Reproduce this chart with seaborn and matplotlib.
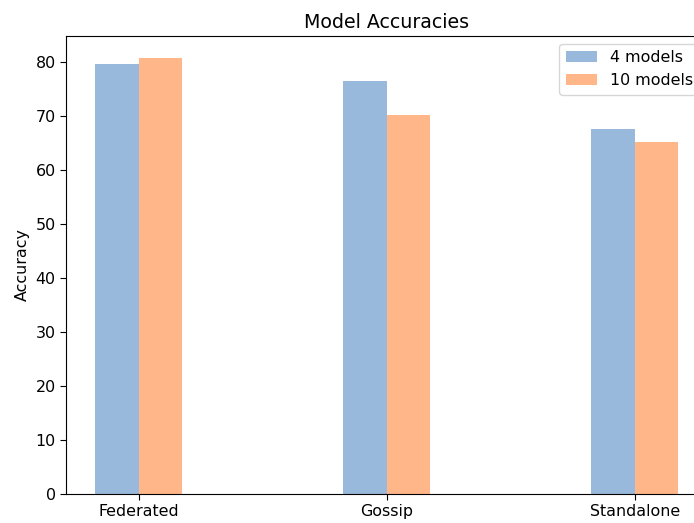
import matplotlib
matplotlib.use("Agg")
import matplotlib.pyplot as plt
import seaborn as sns
import pandas as pd

categories = ["Federated", "Gossip", "Standalone"]
acc_4 = [79.6, 76.4, 67.5]
acc_10 = [80.7, 70.1, 65.1]
series = ["4 models", "10 models"]

df = pd.DataFrame({
    "method": categories * 2,
    "acc": acc_4 + acc_10,
    "series": [series[0]] * 3 + [series[1]] * 3,
})

plt.rcParams["font.size"] = 11.4

W, H = 694, 523
fig = plt.figure(figsize=(W / 100, H / 100), dpi=100)
ax = fig.add_axes([66 / W, (H - 494) / H, (707.5 - 66) / W, (494 - 36) / H])

sns.barplot(data=df, x="method", y="acc", hue="series", order=categories,
            hue_order=series, palette=["#98b9dc", "#ffb78a"],
            saturation=1, width=0.35, linewidth=0, ax=ax, errorbar=None)

ax.set_xlim(-0.2925, 2.2925)
ax.set_ylim(0, 84.75)
ax.set_xlabel("")
ax.set_ylabel("Accuracy", fontsize=11.4)
ax.set_title("Model Accuracies", fontsize=13.7)
ax.tick_params(labelsize=11.4, length=4)
ax.legend(loc="upper right", fontsize=11.4)
ax.grid(False)
for s in ["top", "right", "left", "bottom"]:
    ax.spines[s].set_visible(True)

fig.savefig("out.png", dpi=100)
